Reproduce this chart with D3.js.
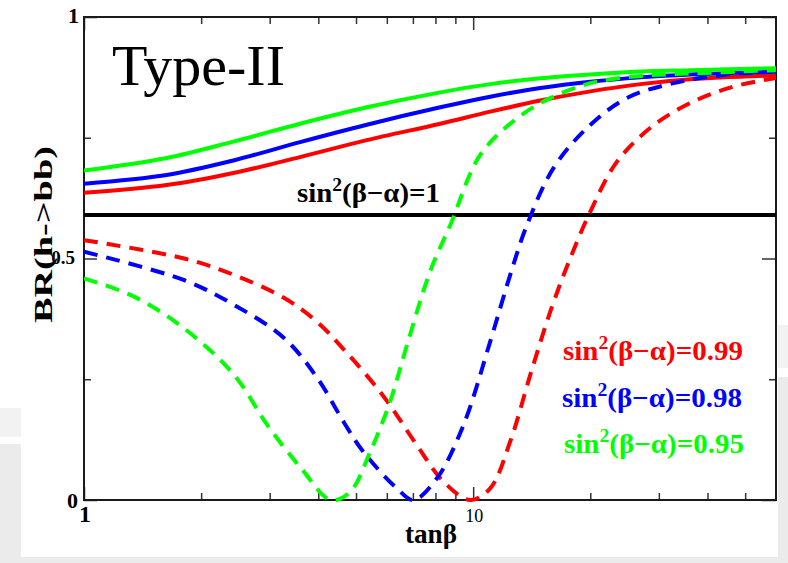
<!DOCTYPE html>
<html>
<head>
<meta charset="utf-8">
<script src="https://cdn.jsdelivr.net/npm/d3@7"></script>
<style>
  body { margin: 0; background: #fff; }
  svg text { font-family: "Liberation Serif", "DejaVu Serif", serif; }
</style>
</head>
<body>
<svg id="chart" width="788" height="563"></svg>
<script>
// values (tanβ on a log axis, BR(h->bb) linear)
var tanbSolid = [1, 1.63, 2.42, 3.59, 5.33, 8.23, 11.06, 14.87, 20, 26.9, 36.1, 60];
var brSolid099 = [0.636, 0.652, 0.677, 0.710, 0.745, 0.779, 0.804, 0.827, 0.846, 0.861, 0.871, 0.879];
var brSolid098 = [0.655, 0.673, 0.703, 0.741, 0.777, 0.813, 0.835, 0.853, 0.866, 0.875, 0.881, 0.887];
var brSolid095 = [0.682, 0.708, 0.742, 0.779, 0.813, 0.844, 0.861, 0.873, 0.881, 0.887, 0.890, 0.894];

var tanbDash099 = [1, 1.81, 2.43, 3.27, 3.98, 4.66, 5.88, 7.16, 8.39, 9.82, 11.06, 12.45, 14.02, 15.78, 17.75, 20.0, 23.4, 29.1, 36.8, 46.7, 60];
var brDash099 = [0.538, 0.500, 0.466, 0.418, 0.368, 0.311, 0.215, 0.114, 0.038, 0.000, 0.024, 0.121, 0.259, 0.390, 0.500, 0.597, 0.700, 0.776, 0.825, 0.856, 0.874];

var tanbDash098 = [1, 1.81, 2.43, 3.27, 3.98, 4.66, 5.22, 6.37, 7.02, 8.07, 9.44, 11.06, 12.45, 13.74, 16.08, 19.6, 24.8, 32.7, 44.0, 60];
var brDash098 = [0.514, 0.455, 0.404, 0.335, 0.252, 0.160, 0.100, 0.024, 0.000, 0.045, 0.155, 0.328, 0.466, 0.569, 0.687, 0.770, 0.832, 0.863, 0.880, 0.887];

var tanbDash095 = [1, 1.345, 1.81, 2.43, 2.96, 3.61, 4.31, 4.83, 5.44, 6.12, 6.76, 7.75, 8.73, 10.42, 12.95, 15.78, 20.0, 26.9, 36.2, 60];
var brDash095 = [0.459, 0.421, 0.355, 0.259, 0.155, 0.066, 0.000, 0.017, 0.100, 0.204, 0.321, 0.473, 0.569, 0.714, 0.790, 0.832, 0.863, 0.878, 0.883, 0.890];

var smValue = 0.59;   // sin^2(beta-alpha)=1 line

var seriesNames = ["0.99", "0.98", "0.95"];
var seriesColors = ["#ff0000", "#0000ff", "#00ff00"];

var xMajorTicks = [1, 10];
var xMinorTicks = [2, 3, 4, 5, 6, 7, 8, 9, 20, 30, 40, 50];
var yMajorTicks = [0, 0.5, 1];
var yMinorTicks = [0.25, 0.75];
var xTickLabels = ["1", "10"];
var yTickLabels = ["0", "0.5", "1"];

var svg = d3.select("#chart");
var padL = 84, padR = 776, padT = 17, padB = 500;

// slide background bits around the figure
svg.append("rect").attr("x", 0).attr("y", 408).attr("width", 21).attr("height", 29).attr("fill", "#f2f2f2");
svg.append("rect").attr("x", 0).attr("y", 444).attr("width", 21).attr("height", 119).attr("fill", "#ebebeb");
svg.append("rect").attr("x", 778).attr("y", 325).attr("width", 10).attr("height", 43).attr("fill", "#f2f2f2");
svg.append("rect").attr("x", 778).attr("y", 377).attr("width", 10).attr("height", 186).attr("fill", "#ebebeb");
svg.append("rect").attr("x", 0).attr("y", 557).attr("width", 788).attr("height", 6).attr("fill", "#ebebeb");

var x = d3.scaleLog().domain([1, 60]).range([padL, padR]);
var y = d3.scaleLinear().domain([0, 1]).range([padB, padT]);

svg.append("clipPath").attr("id", "plotclip")
  .append("rect").attr("x", padL).attr("y", padT).attr("width", padR - padL).attr("height", padB - padT + 2);

// axes, ticks pointing inwards on all four sides
function tickAxis(axis, vals, size, tx, ty) {
  var g = svg.append("g").attr("transform", "translate(" + tx + "," + ty + ")")
    .call(axis.tickValues(vals).tickSize(-size).tickFormat(""));
  g.select(".domain").remove();
  g.selectAll(".tick line").attr("stroke", "#333").attr("stroke-width", 1.5);
}
tickAxis(d3.axisBottom(x), xMinorTicks, 7, 0, padB);
tickAxis(d3.axisBottom(x), xMajorTicks, 13, 0, padB);
tickAxis(d3.axisTop(x), xMinorTicks, 7, 0, padT);
tickAxis(d3.axisTop(x), xMajorTicks, 13, 0, padT);
tickAxis(d3.axisLeft(y), yMinorTicks, 7, padL, 0);
tickAxis(d3.axisLeft(y), yMajorTicks, 13, padL, 0);
tickAxis(d3.axisRight(y), yMinorTicks, 7, padR, 0);
tickAxis(d3.axisRight(y), yMajorTicks, 14, padR, 0);

// tick labels (each one sized as in the picture)
var yLabStyle = [{dx: -6, dy: 8, size: 22, w: "bold"}, {dx: -9, dy: 5, size: 19, w: "bold"}, {dx: -5, dy: 6, size: 22, w: "bold"}];
yMajorTicks.forEach(function (v, i) {
  svg.append("text").attr("x", padL + yLabStyle[i].dx).attr("y", y(v) + yLabStyle[i].dy)
    .attr("text-anchor", "end").attr("font-size", yLabStyle[i].size).attr("font-weight", yLabStyle[i].w)
    .text(yTickLabels[i]);
});
var xLabStyle = [{size: 24, w: "bold"}, {size: 18, w: "normal"}];
xMajorTicks.forEach(function (v, i) {
  svg.append("text").attr("x", x(v) + 1).attr("y", 522)
    .attr("text-anchor", "middle").attr("font-size", xLabStyle[i].size).attr("font-weight", xLabStyle[i].w)
    .text(xTickLabels[i]);
});

// frame
svg.append("rect").attr("x", padL).attr("y", padT).attr("width", padR - padL).attr("height", padB - padT)
  .attr("fill", "none").attr("stroke", "#1a1a1a").attr("stroke-width", 2);

var plot = svg.append("g").attr("clip-path", "url(#plotclip)");

plot.append("line").attr("x1", padL).attr("x2", padR).attr("y1", y(smValue)).attr("y2", y(smValue))
  .attr("stroke", "#000").attr("stroke-width", 4);

var line = d3.line()
  .x(function (d) { return x(d[0]); })
  .y(function (d) { return y(d[1]); })
  .curve(d3.curveCatmullRom.alpha(0.5));

var solid = [brSolid099, brSolid098, brSolid095];
var dashed = [[tanbDash099, brDash099], [tanbDash098, brDash098], [tanbDash095, brDash095]];

solid.forEach(function (s, i) {
  plot.append("path").datum(d3.zip(tanbSolid, s)).attr("d", line)
    .attr("fill", "none").attr("stroke", seriesColors[i]).attr("stroke-width", 4);
});
dashed.forEach(function (s, i) {
  plot.append("path").datum(d3.zip(s[0], s[1])).attr("d", line)
    .attr("fill", "none").attr("stroke", seriesColors[i]).attr("stroke-width", 4)
    .attr("stroke-dasharray", "14,9");
});

// text squeezed/stretched to the width seen in the figure
function fitted(px, py, width, rot) {
  var g = svg.append("g");
  return {
    g: g,
    fit: function () {
      var bb = g.node().getBBox();
      var sx = width / bb.width;
      g.attr("transform", "translate(" + px + "," + py + ")" + (rot ? " rotate(" + rot + ")" : "") + " scale(" + sx + ",1)");
    }
  };
}

function sinLabel(px, py, width, color, value) {
  var f = fitted(px, py, width);
  var t = f.g.append("text").attr("font-size", 28).attr("font-weight", "bold").attr("fill", color);
  t.append("tspan").text("sin");
  t.append("tspan").attr("font-size", 19).attr("dy", -11).text("2");
  t.append("tspan").attr("dy", 11).text("(β−α)=" + value);
  f.fit();
}

sinLabel(297, 202, 143, "#000", "1");
var legendY = [360, 407, 453];
var legendX = [563, 562, 564];
seriesNames.forEach(function (n, i) {
  sinLabel(legendX[i], legendY[i], 180, seriesColors[i], n);
});

var tt = fitted(112, 85, 173);
tt.g.append("text").attr("font-size", 56).text("Type-II");
tt.fit();

var xl = fitted(405, 543, 52);
xl.g.append("text").attr("font-size", 27).attr("font-weight", "bold").text("tanβ");
xl.fit();

var yl = fitted(52, 323, 177, -90);
yl.g.append("text").attr("font-size", 26).attr("font-weight", "bold").text("BR(h->bb)");
yl.fit();
</script>
</body>
</html>
